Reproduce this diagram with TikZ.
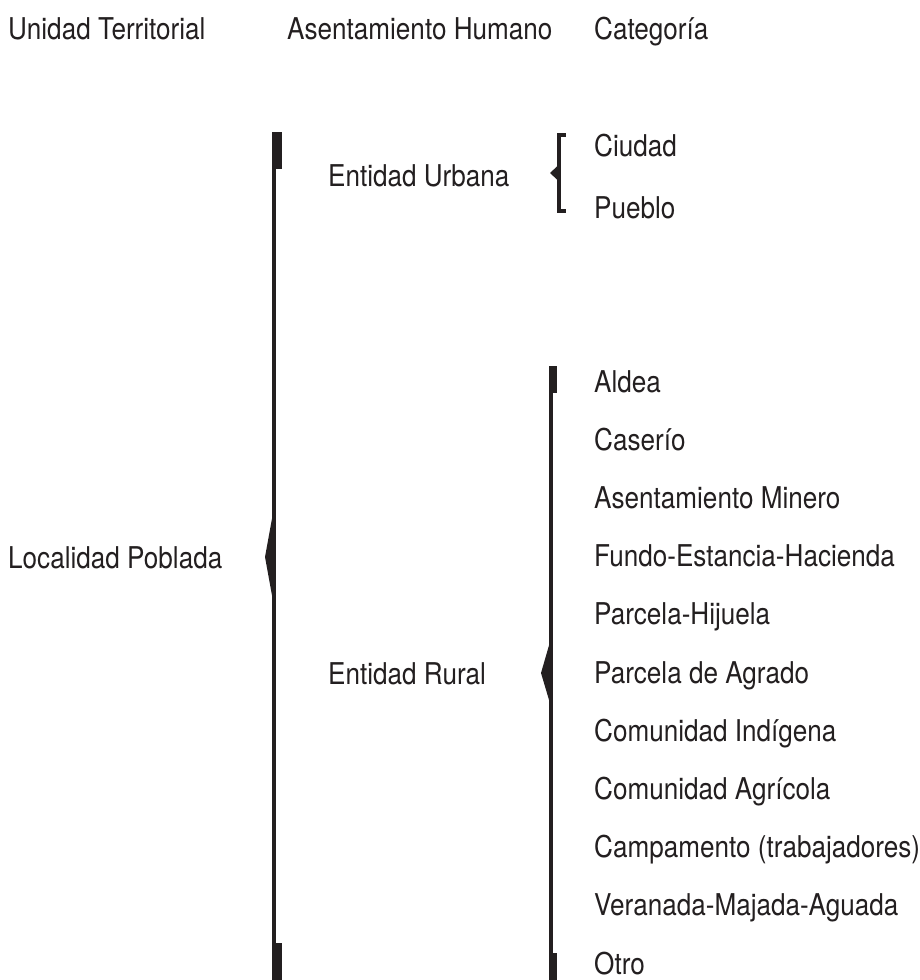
\documentclass[tikz,border=0pt]{standalone}
\usepackage{fontspec}
\setmainfont[FakeStretch=0.87]{TeX Gyre Heros}
\definecolor{ink}{HTML}{231F20}
\begin{document}
\begin{tikzpicture}[x=1pt,y=-1pt,
  lbl/.style={anchor=base west,inner sep=0pt,font=\fontsize{30}{36}\selectfont,text=ink}]
\useasboundingbox[fill=white] (0,0) rectangle (920,980);
% headers
\node[lbl] (h1) at (8,39) {Unidad Territorial};
\node[lbl] (h2) at (287,39) {Asentamiento Humano};
\node[lbl] (h3) at (594,39) {Categoría};
% level texts
\node[lbl] (loc) at (8,568) {Localidad Poblada};
\node[lbl] (urb) at (328,186) {Entidad Urbana};
\node[lbl] (rur) at (328,684) {Entidad Rural};
\node[lbl] (ciu) at (594,156) {Ciudad};
\node[lbl] (pue) at (594,218) {Pueblo};
\foreach \t [count=\i from 0] in {Aldea,Caserío,Asentamiento Minero,Fundo-Estancia-Hacienda,Parcela-Hijuela,Parcela de Agrado,Comunidad Indígena,Comunidad Agrícola,Campamento (trabajadores),Veranada-Majada-Aguada,Otro}
  \node[lbl] (r\i) at (594,392+58.2*\i) {\t};
% left brace
\fill[ink] (272,132) rectangle (282,169);
\fill[ink] (272,132) rectangle (275.5,980);
\fill[ink] (272,943) rectangle (282,980);
\fill[ink] (275,502) -- (265,557) -- (275,612) -- cycle;
% rural brace
\fill[ink] (549,366) rectangle (557,393);
\fill[ink] (549,366) rectangle (552.5,980);
\fill[ink] (549,953) rectangle (557,980);
\fill[ink] (552,635) -- (541,673) -- (552,710) -- cycle;
% urban bracket
\fill[ink] (557,133) rectangle (566,137);
\fill[ink] (557,133) rectangle (560.5,213);
\fill[ink] (557,209) rectangle (566,213);
\fill[ink] (557.5,166) -- (550,173) -- (557.5,180) -- cycle;
\end{tikzpicture}
\end{document}
